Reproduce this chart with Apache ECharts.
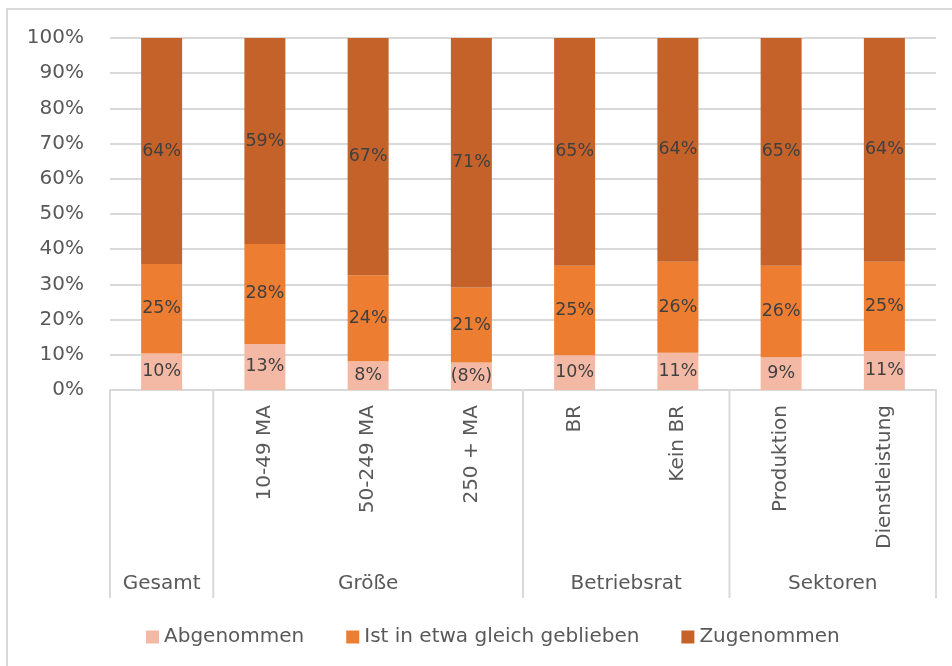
<!DOCTYPE html>
<html>
<head>
<meta charset="utf-8">
<script src="https://cdn.jsdelivr.net/npm/echarts@6/dist/echarts.min.js"></script>
<style>
html,body{margin:0;padding:0;background:#fff;}
#chart{width:952px;height:666px;}
</style>
</head>
<body>
<div id="chart"></div>
<script>
// ---- data ----
var categories = ['Gesamt', '10-49 MA', '50-249 MA', '250 + MA', 'BR', 'Kein BR', 'Produktion', 'Dienstleistung'];
var hiddenCategoryLabels = ['Gesamt']; // shown only as group label
var seriesNames = ['Abgenommen', 'Ist in etwa gleich geblieben', 'Zugenommen'];
var abgenommen = [10.4, 13.1, 8.2, 7.8, 9.9, 10.6, 9.3, 11.1];
var gleich     = [25.4, 28.4, 24.4, 21.3, 25.4, 25.8, 26.0, 25.3];
var zugenommen = [64.2, 58.5, 67.4, 70.9, 64.7, 63.6, 64.7, 63.6];
var bracketedAbgenommen = ['250 + MA']; // label shown in parentheses
var groupNames = ['Gesamt', 'Größe', 'Betriebsrat', 'Sektoren'];
var groupSizes = [1, 3, 2, 2];
var yTicks = [0, 10, 20, 30, 40, 50, 60, 70, 80, 90, 100];

var colors = ['#F4B9A5', '#ED7D31', '#C5622A'];
var FONT = 'DejaVu Sans';
var GRID = '#D9D9D9';

var chart = echarts.init(document.getElementById('chart'), null, {renderer: 'canvas'});

function mkSeries(name, data, color, bracketed) {
  return {
    name: name,
    type: 'bar',
    stack: 'total',
    barWidth: 41,
    data: data,
    itemStyle: {color: color},
    label: {
      show: true,
      position: 'inside',
      fontFamily: FONT,
      fontSize: 17.5,
      color: '#404040',
      textBorderWidth: 0,
      formatter: function (p) {
        var t = Math.round(p.value) + '%';
        if (bracketed && bracketed.indexOf(p.name) >= 0) t = '(' + t + ')';
        return t;
      }
    }
  };
}

var option = {
  animation: false,
  backgroundColor: '#ffffff',
  grid: {left: 110, right: 16, top: 38, bottom: 276},
  legend: {
    data: seriesNames,
    left: 141,
    top: 622,
    icon: 'rect',
    itemWidth: 13,
    itemHeight: 13,
    itemGap: 42,
    textStyle: {fontFamily: FONT, fontSize: 20, color: '#595959'}
  },
  xAxis: {
    type: 'category',
    data: categories,
    axisTick: {show: false},
    axisLine: {lineStyle: {color: GRID, width: 2}},
    axisLabel: {
      rotate: 90,
      margin: 15,
      interval: 0,
      fontFamily: FONT,
      fontSize: 20,
      color: '#595959',
      formatter: function (v) {
        return hiddenCategoryLabels.indexOf(v) >= 0 ? '' : v;
      }
    }
  },
  yAxis: {
    type: 'value',
    min: yTicks[0],
    max: yTicks[yTicks.length - 1],
    interval: yTicks[1] - yTicks[0],
    axisLine: {show: false},
    axisTick: {show: false},
    splitLine: {lineStyle: {color: GRID, width: 2}},
    axisLabel: {
      formatter: '{value}%',
      margin: 26,
      fontFamily: FONT,
      fontSize: 20,
      color: '#595959'
    }
  },
  series: [
    mkSeries(seriesNames[0], abgenommen, colors[0], bracketedAbgenommen),
    mkSeries(seriesNames[1], gleich, colors[1]),
    mkSeries(seriesNames[2], zugenommen, colors[2])
  ]
};
chart.setOption(option);

// group separators and group labels, placed via the category axis scale
var x0 = chart.convertToPixel({xAxisIndex: 0}, categories[0]);
var x1 = chart.convertToPixel({xAxisIndex: 0}, categories[1]);
var band = x1 - x0;
var yAxisPix = chart.convertToPixel({yAxisIndex: 0}, 0);
var sepBottom = 598;
var graphics = [];
// outer chart frame (only top and left edges are inside the picture)
graphics.push({
  type: 'line', silent: true,
  shape: {x1: 7, y1: 9, x2: 960, y2: 9},
  style: {stroke: GRID, lineWidth: 2}
});
graphics.push({
  type: 'line', silent: true,
  shape: {x1: 7, y1: 8, x2: 7, y2: 680},
  style: {stroke: GRID, lineWidth: 2}
});
function boundary(i) {
  return chart.convertToPixel({xAxisIndex: 0}, categories[Math.min(i, categories.length - 1)]) +
    (i >= categories.length ? band / 2 : -band / 2);
}
graphics.push({
  type: 'line', silent: true,
  shape: {x1: boundary(0), y1: yAxisPix, x2: boundary(0), y2: sepBottom},
  style: {stroke: GRID, lineWidth: 2}
});
var idx = 0;
for (var g = 0; g < groupNames.length; g++) {
  var start = idx, end = idx + groupSizes[g];
  var bs = boundary(start), be = boundary(end);
  graphics.push({
    type: 'line', silent: true,
    shape: {x1: be, y1: yAxisPix, x2: be, y2: sepBottom},
    style: {stroke: GRID, lineWidth: 2}
  });
  graphics.push({
    type: 'text', silent: true,
    x: (bs + be) / 2, y: 584,
    style: {
      text: groupNames[g], fontFamily: FONT, fontSize: 20, fill: '#595959',
      align: 'center', verticalAlign: 'middle'
    }
  });
  idx = end;
}
chart.setOption({graphic: graphics});
</script>
</body>
</html>
